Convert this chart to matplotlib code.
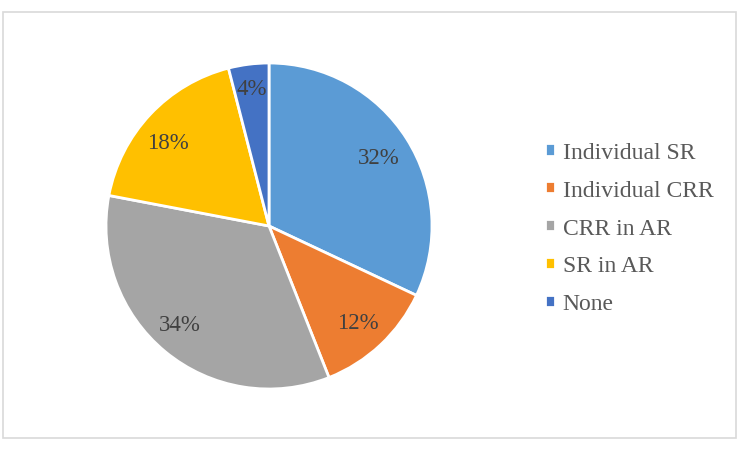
import numpy as np
import matplotlib.pyplot as plt
from matplotlib.patches import Rectangle

plt.rcParams['font.family'] = ['Liberation Serif', 'DejaVu Serif']

labels = ["Individual SR", "Individual CRR", "CRR in AR", "SR in AR", "None"]
values = [32, 12, 34, 18, 4]
colors = ["#5B9BD5", "#ED7D31", "#A5A5A5", "#FFC000", "#4472C4"]

W, H = 742, 452
fig = plt.figure(figsize=(W / 100, H / 100), dpi=100)

# chart border
fig.patches.append(Rectangle((3 / W, 13 / H), 733 / W, 426 / H, transform=fig.transFigure,
                             fill=False, edgecolor="#D9D9D9", linewidth=1.2))

ax = fig.add_axes([106 / W, 62 / H, 326 / W, 326 / H])
wedges, texts = ax.pie(values, colors=colors, startangle=90, counterclock=False,
                       wedgeprops=dict(edgecolor="white", linewidth=2))
ax.set_xlim(-1, 1)
ax.set_ylim(-1, 1)
ax.set_aspect("equal")

# label radius and small angle nudge (deg) per slice
dists = [0.8, 0.8, 0.81, 0.81, 0.86]
nudge = [0, 0, -3, 3, 0]
for w, v, d, n in zip(wedges, values, dists, nudge):
    ang = np.deg2rad((w.theta1 + w.theta2) / 2 + n)
    ax.text(d * np.cos(ang), d * np.sin(ang) - 0.01, f"{v}%", ha="center", va="center",
            fontsize=16.5, color="#404040")

leg = fig.legend(wedges, labels, loc="upper left", bbox_to_anchor=(545 / W, 1 - 143 / H),
                 frameon=False, fontsize=17, handlelength=0.42, handleheight=0.42,
                 handletextpad=0.33, labelspacing=0.71, borderpad=0, borderaxespad=0,
                 labelcolor="#595959")

fig.savefig("out.png", dpi=100)
